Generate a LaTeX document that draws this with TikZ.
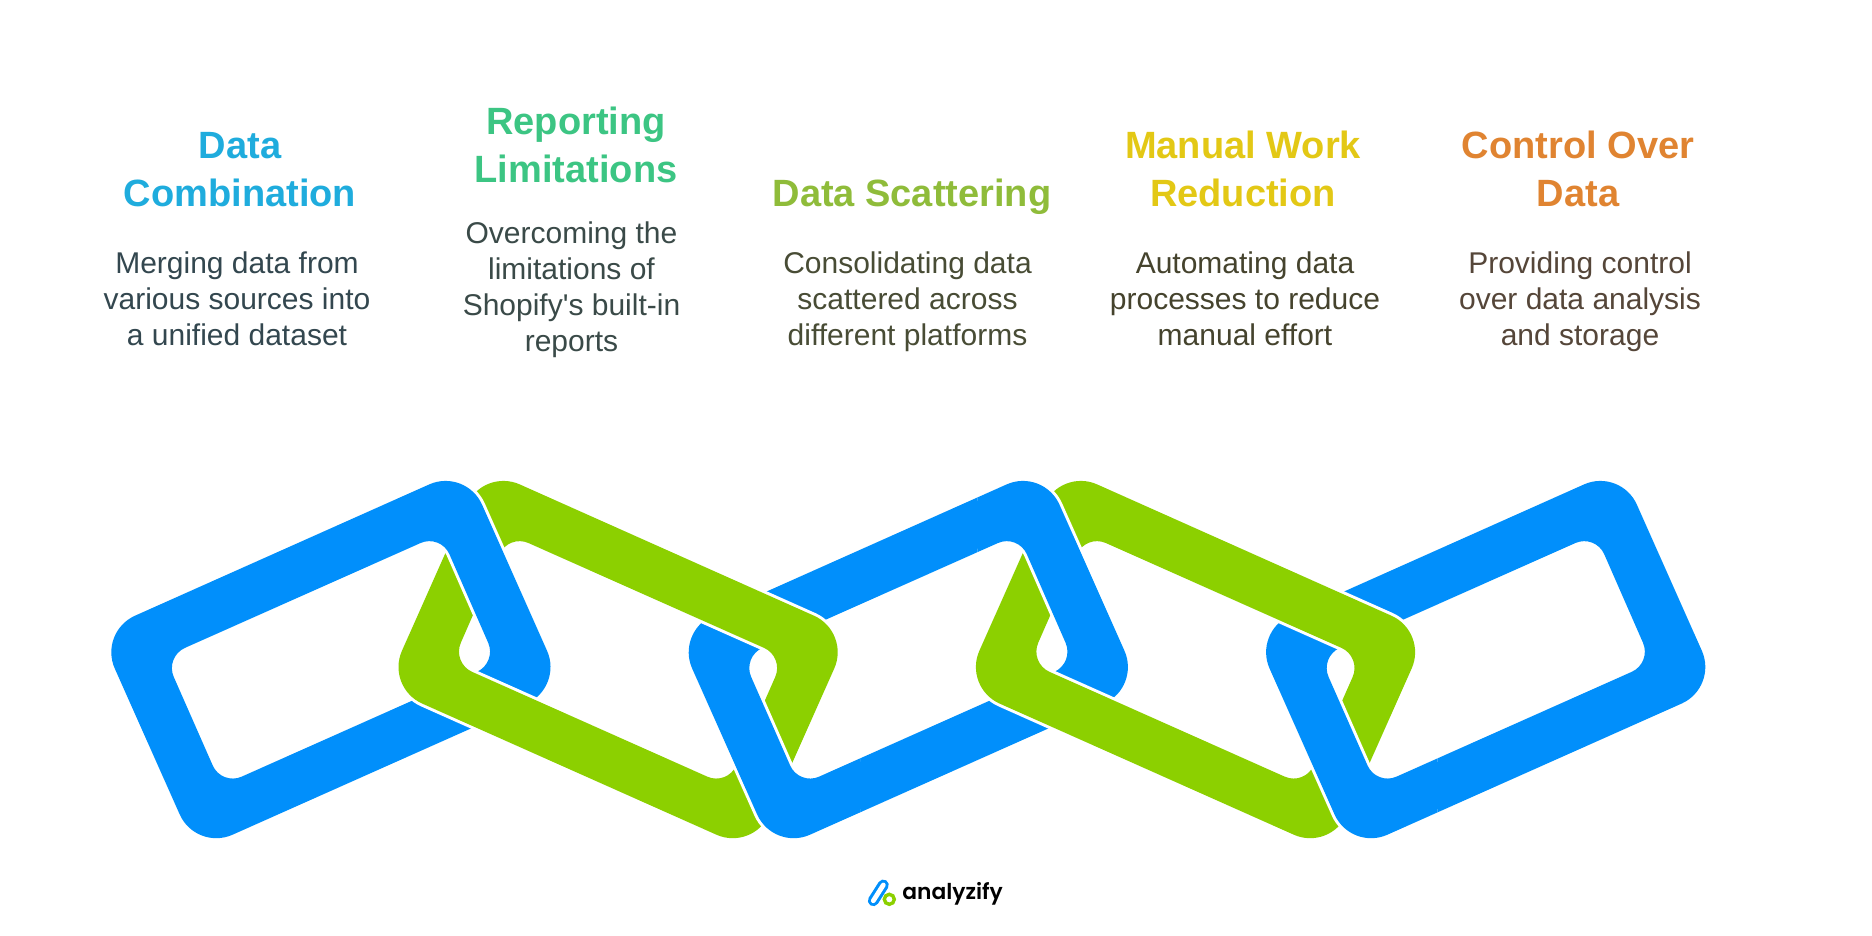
\documentclass[tikz,border=0pt]{standalone}
\usepackage{fontspec}
\newfontfamily\txtfont{Liberation Sans}
\newfontfamily\logofont{Poppins SemiBold}
\definecolor{cblue}{HTML}{018FFB}
\definecolor{cgreen}{HTML}{8CD000}
\definecolor{hA}{HTML}{1FACDD}
\definecolor{hB}{HTML}{3CC583}
\definecolor{hC}{HTML}{8FBC3A}
\definecolor{hD}{HTML}{E3C815}
\definecolor{hE}{HTML}{E08431}
\definecolor{bA}{HTML}{33474F}
\definecolor{bB}{HTML}{3A4A48}
\definecolor{bC}{HTML}{484C35}
\definecolor{bD}{HTML}{45432D}
\definecolor{bE}{HTML}{554639}
\tikzset{
  head/.style={align=center,font=\txtfont\fontsize{19}{24}\selectfont\bfseries,anchor=base,inner sep=0pt},
  body/.style={align=center,font=\txtfont\fontsize{15}{18}\selectfont,anchor=base,inner sep=0pt},
  halo/.style={draw=white,line width=3pt,line join=round},
}
\newcommand{\bluepath}{%
  [rounded corners=20pt] (98.5,632) -- (465.8,468.1) -- (563.3,687.3) -- (196,851) -- cycle
  [rounded corners=11pt] (164.9,656.8) -- (440.6,534.1) -- (497.0,662.9) -- (221.6,785.6) -- cycle}
\newcommand{\greenpath}{%
  [rounded corners=20pt] (483.2,468.1) -- (850.5,632) -- (753,851) -- (385.7,687.3) -- cycle
  [rounded corners=11pt] (508.4,534.1) -- (784.1,656.8) -- (727.4,785.6) -- (452.0,662.9) -- cycle}
\newcommand{\drawblue}[1]{\begin{scope}[xshift=#1*0.5pt]\path[halo,even odd rule] \bluepath;\fill[cblue,even odd rule] \bluepath;\end{scope}}
\newcommand{\drawgreen}[1]{\begin{scope}[xshift=#1*0.5pt]\path[halo,even odd rule] \greenpath;\fill[cgreen,even odd rule] \greenpath;\end{scope}}
\begin{document}
\begin{tikzpicture}[x=0.5pt,y=-0.5pt]
\useasboundingbox (0,0) rectangle (1872,936);
\fill[white] (0,0) rectangle (1872,936);
% links
\drawblue{0}\drawblue{577.4}\drawblue{1154.8}
\drawgreen{0}\drawgreen{577.4}
% blue passes over green at these crossings
\begin{scope}\clip (400,450) rectangle (560,640);\drawblue{0}\end{scope}
\begin{scope}\clip (680,677) rectangle (860,870);\drawblue{577.4}\end{scope}
\begin{scope}\clip (977.4,450) rectangle (1137.4,640);\drawblue{577.4}\end{scope}
\begin{scope}\clip (1257.4,677) rectangle (1437.4,870);\drawblue{1154.8}\end{scope}
% headings (anchored at the baseline of their last line)
\node[head,text=hA] (h1) at (240,206) {Data\\Combination};
\node[head,text=hB] (h2) at (576,182.5) {Reporting\\Limitations};
\node[head,text=hC] (h3) at (912,206) {Data Scattering};
\node[head,text=hD] (h4) at (1243,206) {Manual Work\\Reduction};
\node[head,text=hE] (h5) at (1578,206) {Control Over\\Data};
% descriptions
\node[body,text=bA] (b1) at (237,345) {Merging data from\\various sources into\\a unified dataset};
\node[body,text=bB] (b2) at (571.5,351) {Overcoming the\\limitations of\\Shopify's built-in\\reports};
\node[body,text=bC] (b3) at (907.5,345) {Consolidating data\\scattered across\\different platforms};
\node[body,text=bD] (b4) at (1245,345) {Automating data\\processes to reduce\\manual effort};
\node[body,text=bE] (b5) at (1580,345) {Providing control\\over data analysis\\and storage};
% logo
\draw[cblue,line width=5.5pt,line cap=round] (873.3,900.7) -- (883.3,885);
\draw[white,line width=2.4pt,line cap=round] (873.3,900.7) -- (883.3,885);
\draw[cgreen,line width=1.7pt] (889.3,899.3) circle[radius=5];
\node[anchor=base west,inner sep=0pt,font=\logofont\fontsize{10.9}{12}\selectfont,text=black] (logo) at (902,899) {analyzify};
\end{tikzpicture}
\end{document}
